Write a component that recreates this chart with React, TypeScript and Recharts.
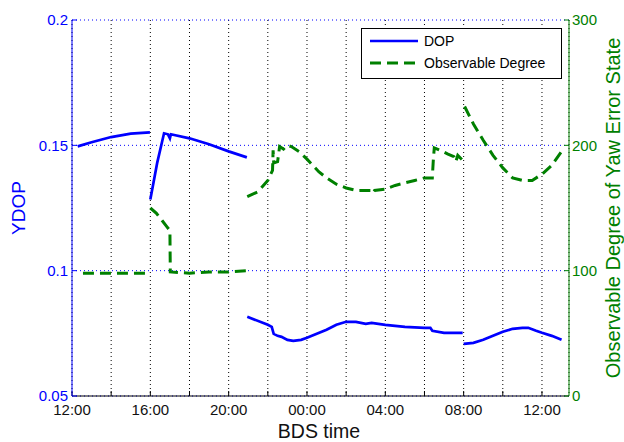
import { ComposedChart, Line, XAxis, YAxis, CartesianGrid, Legend, Label } from "recharts";

// hours since 12:00 BDS time
const hourTicks = [0, 2, 4, 6, 8, 10, 12, 14, 16, 18, 20, 22, 24];
const hourLabels = ["12:00", "", "16:00", "", "20:00", "", "00:00", "", "04:00", "", "08:00", "", "12:00"];
const dopTicks = [0.05, 0.1, 0.15, 0.2];
const dopTickLabels = ["0.05", "0.1", "0.15", "0.2"];
const degTicks = [0, 100, 200, 300];

const dopT = [
  0.29, 1, 2, 3, 3.98, 3.99,
  4.0, 4.35, 4.7, 4.9, 5.0, 5.05, 6, 7, 8, 8.93, 8.94,
  8.95, 10, 10.2, 10.3, 10.5, 10.7, 11, 11.3, 11.7, 12, 12.5, 13, 13.5, 14, 14.5, 15, 15.3, 16, 17, 18, 18.3, 18.4, 19, 19.95, 19.97,
  20.0, 20.5, 21, 21.5, 22, 22.5, 23, 23.3, 23.7, 24, 24.5, 25.0,
];
const dopV = [
  0.1496, 0.1512, 0.1533, 0.1547, 0.1552, null,
  0.1284, 0.143, 0.1548, 0.1544, 0.1528, 0.1544, 0.1528, 0.1504, 0.1476, 0.1452, null,
  0.0816, 0.0784, 0.0776, 0.0748, 0.074, 0.0736, 0.0724, 0.072, 0.0724, 0.0732, 0.0748, 0.0764, 0.0784, 0.0796, 0.0796, 0.0788, 0.0792, 0.0784, 0.0776, 0.0772, 0.0772, 0.076, 0.0752, 0.0752, null,
  0.0708, 0.0712, 0.0724, 0.074, 0.0756, 0.0768, 0.0772, 0.0772, 0.076, 0.0752, 0.074, 0.0724,
];

const degT = [
  0.56, 2, 3.8, 3.9,
  4.0, 4.3, 4.6, 4.85, 5.0, 5.02, 6, 7, 8, 8.93, 8.94,
  8.95, 9.5, 10, 10.24, 10.27, 10.3, 10.5, 10.6, 10.8, 11, 11.2, 11.6, 12, 12.6, 13, 13.5, 14, 14.5, 15, 15.3, 15.35, 15.45, 16, 16.5, 17, 17.5, 18, 18.4, 18.45, 18.5, 18.8, 19.2, 19.5, 19.6, 19.7, 19.95, 19.97,
  20.05, 20.5, 21, 21.5, 22, 22.5, 23, 23.5, 24, 24.5, 25.0,
];
const degV = [
  98, 98, 98, null,
  150, 146, 140, 135, 132, 99, 98, 99, 99, 100, null,
  159, 163, 172, 180, 196, 186, 187, 199, 197, 200, 199, 195, 189, 179, 174, 169, 166, 164, 164, 164, 162, 164, 165, 168, 170, 172, 174, 174, 188, 198, 196, 193, 191, 187, 192, 188, null,
  231, 217, 204, 192, 182, 174, 172, 172, 177, 184, 195,
];

const seriesNames = ["DOP", "Observable Degree"];

const dopData = dopT.map((t, i) => ({ t, v: dopV[i] }));
const degData = degT.map((t, i) => ({ t, v: degV[i] }));

const font = "'Liberation Sans', Arial, sans-serif";
const BLUE = "#0000ff";
const GREEN = "#008000";

const LegendBox = () => (
  <div
    style={{
      width: 201,
      height: 51,
      boxSizing: "border-box",
      border: "1px solid #000",
      background: "#fff",
      fontFamily: font,
      fontSize: 14,
      color: "#000",
      paddingTop: 1,
    }}
  >
    {seriesNames.map((name, i) => (
      <div key={name} style={{ display: "flex", alignItems: "center", height: 22 }}>
        <svg width={62} height={8} style={{ flex: "none" }}>
          <line
            x1={8}
            x2={56}
            y1={4}
            y2={4}
            stroke={i === 0 ? BLUE : GREEN}
            strokeWidth={i === 0 ? 2.5 : 3}
            strokeDasharray={i === 0 ? undefined : "11 6"}
          />
        </svg>
        <span>{name}</span>
      </div>
    ))}
  </div>
);

const App = () => {
  return (
    <div style={{ position: "absolute", left: 0, top: 0, background: "#fff" }}>
      <ComposedChart width={624} height={442} margin={{ top: 20, right: 0, bottom: 0, left: 0 }}>
        <CartesianGrid yAxisId="left" horizontal={false} stroke="#000" strokeDasharray="1 3" />
        <CartesianGrid yAxisId="left" vertical={false} stroke={BLUE} strokeDasharray="1 3" />
        <XAxis
          dataKey="t"
          type="number"
          domain={[0, 25.38]}
          ticks={hourTicks}
          tickFormatter={(v: number) => hourLabels[hourTicks.indexOf(v)]}
          height={46}
          stroke="#000"
          tick={{ fill: "#111", fontSize: 15, fontFamily: font }}
          tickSize={-5}
          tickMargin={13}
          allowDataOverflow
        >
          <Label
            content={() => (
              <text x={319} y={438} textAnchor="middle" fontSize={19.5} fontFamily={font} fill="#111">
                BDS time
              </text>
            )}
          />
        </XAxis>
        <XAxis
          xAxisId="top"
          orientation="top"
          dataKey="t"
          type="number"
          domain={[0, 25.38]}
          ticks={hourTicks}
          tickFormatter={() => ""}
          height={0}
          stroke="#000"
          tickSize={-5}
        />
        <YAxis
          yAxisId="left"
          domain={[0.05, 0.2]}
          ticks={dopTicks}
          tickFormatter={(v: number) => dopTickLabels[dopTicks.indexOf(v)]}
          width={72}
          stroke={BLUE}
          tick={{ fill: BLUE, fontSize: 15, fontFamily: font }}
          tickSize={-5}
          tickMargin={9}
          allowDataOverflow
        >
          <Label
            content={() => (
              <text
                x={25}
                y={208}
                transform="rotate(-90 25 208)"
                textAnchor="middle"
                fontSize={19}
                fontFamily={font}
                fill={BLUE}
              >
                YDOP
              </text>
            )}
          />
        </YAxis>
        <YAxis
          yAxisId="right"
          orientation="right"
          domain={[0, 300]}
          ticks={degTicks}
          width={55}
          stroke={GREEN}
          tick={{ fill: GREEN, fontSize: 15, fontFamily: font }}
          tickSize={-5}
          tickMargin={8}
          allowDataOverflow
        >
          <Label
            content={() => (
              <text
                x={620}
                y={208}
                transform="rotate(-90 620 208)"
                textAnchor="middle"
                fontSize={20}
                fontFamily={font}
                fill={GREEN}
              >
                Observable Degree of Yaw Error State
              </text>
            )}
          />
        </YAxis>
        <Legend
          layout="vertical"
          align="center"
          verticalAlign="middle"
          content={() => <LegendBox />}
          wrapperStyle={{ top: 28, left: 361, width: 201, height: 51 }}
        />
        <Line
          yAxisId="left"
          data={dopData}
          dataKey="v"
          name={seriesNames[0]}
          type="linear"
          stroke={BLUE}
          strokeWidth={2.7}
          dot={false}
          activeDot={false}
          isAnimationActive={false}
        />
        <Line
          yAxisId="right"
          data={degData}
          dataKey="v"
          name={seriesNames[1]}
          type="linear"
          stroke={GREEN}
          strokeWidth={3}
          strokeDasharray="11 6"
          dot={false}
          activeDot={false}
          isAnimationActive={false}
        />
      </ComposedChart>
    </div>
  );
};

export default App;
